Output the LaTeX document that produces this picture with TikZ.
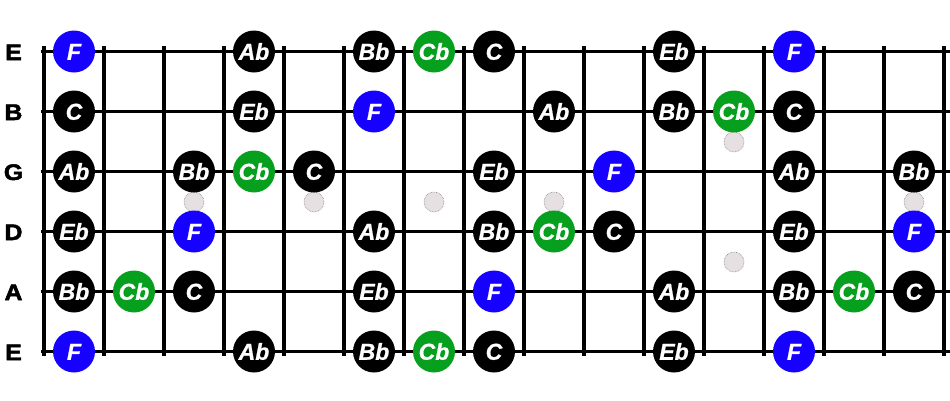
\documentclass[tikz,border=0pt]{standalone}
\usepackage{fontspec}
\setmainfont{Liberation Sans}
\newfontfamily\labelfont[FakeBold=2.2,FakeStretch=1.1]{Liberation Sans}
\newfontfamily\notefont[FakeBold=0.8]{Liberation Sans}
\definecolor{noteblue}{RGB}{22,0,255}
\definecolor{notegreen}{RGB}{6,160,30}
\definecolor{notek}{RGB}{0,0,0}
\definecolor{dotfill}{RGB}{230,224,226}
\tikzset{
  wire/.style={line width=3.6pt},
  fretline/.style={line width=3.2pt},
  note/.style={circle, minimum size=42pt, inner sep=0pt, text=white,
    font=\notefont\fontsize{23}{23}\selectfont\bfseries\itshape, text height=16.5pt, text depth=0pt},
  marker/.style={circle, minimum size=20pt, inner sep=0pt, fill=dotfill, draw=gray, densely dotted, line width=0.6pt},
  strlabel/.style={font=\labelfont\fontsize{22.5}{22.5}\selectfont\bfseries, text height=16pt, text depth=0pt, inner sep=0pt}
}
\begin{document}
\begin{tikzpicture}[x=1pt,y=-1pt]
\useasboundingbox (0,0) rectangle (950,400);
\fill[white] (0,0) rectangle (950,400);
% frets
\foreach \k in {0,...,15}
  \draw[fretline] ({44+60*\k},46) -- ({44+60*\k},356);
% strings
\foreach \s in {0,...,5}
  \draw[wire] (41,{51.5+60*\s}) -- (950,{51.5+60*\s});
% string labels
\foreach \s/\l in {0/E,1/B,2/G,3/D,4/A,5/E}
  \node[strlabel] (lab\s) at (13.5,{52+60*\s}) {\l};
% position markers
\foreach \x/\y [count=\i] in {194/202,314/202,434/202,554/202,734/142,734/262,914/202}
  \node[marker] (dot\i) at (\x,\y) {};
% notes: column/string/name/colour
\foreach \c/\s/\n/\col in {
  0/0/F/noteblue, 3/0/Ab/notek, 5/0/Bb/notek, 6/0/Cb/notegreen, 7/0/C/notek, 10/0/Eb/notek, 12/0/F/noteblue,
  0/1/C/notek, 3/1/Eb/notek, 5/1/F/noteblue, 8/1/Ab/notek, 10/1/Bb/notek, 11/1/Cb/notegreen, 12/1/C/notek,
  0/2/Ab/notek, 2/2/Bb/notek, 3/2/Cb/notegreen, 4/2/C/notek, 7/2/Eb/notek, 9/2/F/noteblue, 12/2/Ab/notek, 14/2/Bb/notek,
  0/3/Eb/notek, 2/3/F/noteblue, 5/3/Ab/notek, 7/3/Bb/notek, 8/3/Cb/notegreen, 9/3/C/notek, 12/3/Eb/notek, 14/3/F/noteblue,
  0/4/Bb/notek, 1/4/Cb/notegreen, 2/4/C/notek, 5/4/Eb/notek, 7/4/F/noteblue, 10/4/Ab/notek, 12/4/Bb/notek, 13/4/Cb/notegreen, 14/4/C/notek,
  0/5/F/noteblue, 3/5/Ab/notek, 5/5/Bb/notek, 6/5/Cb/notegreen, 7/5/C/notek, 10/5/Eb/notek, 12/5/F/noteblue}
  \node[note, fill=\col] (n-\s-\c) at ({74+60*\c},{51.5+60*\s}) {\n};
\end{tikzpicture}
\end{document}
